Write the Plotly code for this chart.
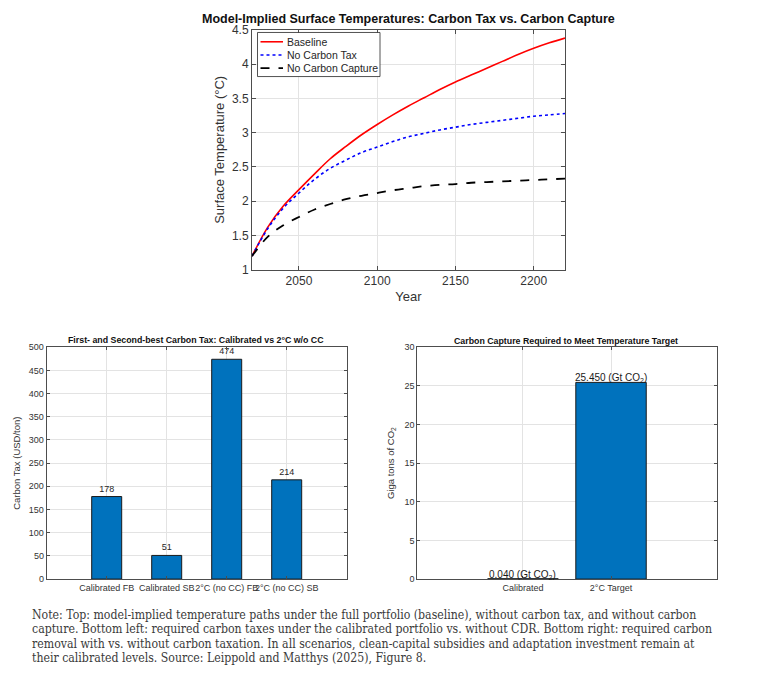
import plotly.graph_objects as go

# top panel: surface temperature paths
years = [2020, 2030, 2040, 2050, 2060, 2070, 2080, 2090, 2100, 2110, 2120,
         2130, 2140, 2150, 2160, 2170, 2180, 2190, 2200, 2210, 2220]
temp_baseline = [1.20, 1.62, 1.93, 2.17, 2.40, 2.62, 2.80, 2.97, 3.12, 3.26, 3.39,
                 3.51, 3.63, 3.74, 3.84, 3.94, 4.04, 4.14, 4.23, 4.31, 4.38]
temp_no_tax = [1.20, 1.60, 1.90, 2.12, 2.32, 2.48, 2.60, 2.71, 2.79, 2.87, 2.94,
               2.99, 3.04, 3.08, 3.12, 3.15, 3.18, 3.21, 3.24, 3.26, 3.28]
temp_no_cc = [1.20, 1.48, 1.65, 1.77, 1.88, 1.96, 2.03, 2.08, 2.12, 2.16, 2.19,
              2.22, 2.24, 2.25, 2.27, 2.28, 2.29, 2.30, 2.31, 2.32, 2.33]
series_names = ["Baseline", "No Carbon Tax", "No Carbon Capture"]

# bottom left: carbon tax
tax_labels = ["Calibrated FB", "Calibrated SB", "2°C (no CC) FB", "2°C (no CC) SB"]
tax_values = [178, 51, 474, 214]

# bottom right: carbon capture
cc_labels = ["Calibrated", "2°C Target"]
cc_values = [0.040, 25.450]

note_lines = [
    "Note: Top: model-implied temperature paths under the full portfolio (baseline), without carbon tax, and without carbon",
    "capture. Bottom left: required carbon taxes under the calibrated portfolio vs. without CDR. Bottom right: required carbon",
    "removal with vs. without carbon taxation. In all scenarios, clean-capital subsidies and adaptation investment remain at",
    "their calibrated levels. Source: Leippold and Matthys (2025), Figure 8.",
]

W, H = 757, 686
BAR = "#0072BD"
AX = "#4d4d4d"
GRID = "#e3e3e3"
FONT = "Liberation Sans, Arial, sans-serif"

def px(x):
    return x / W

def py(y):
    return 1 - y / H

line_styles = [dict(color="red", width=1.6),
               dict(color="blue", width=1.6, dash="dot"),
               dict(color="black", width=1.8, dash="dash")]

fig = go.Figure()
for name, temps, style in zip(series_names, [temp_baseline, temp_no_tax, temp_no_cc], line_styles):
    fig.add_scatter(x=years, y=temps, name=name, mode="lines", line_shape="spline",
                    line=style, showlegend=False, xaxis="x", yaxis="y")

fig.add_bar(x=[1, 2, 3, 4], y=tax_values, width=0.5, marker=dict(color=BAR, line=dict(color="#1a1a1a", width=1)),
            text=[str(v) for v in tax_values], textposition="outside", cliponaxis=False,
            textfont=dict(size=9, color="#262626"), showlegend=False, xaxis="x2", yaxis="y2")

fig.add_bar(x=[1, 2], y=cc_values, width=0.8, marker=dict(color=BAR, line=dict(color="#1a1a1a", width=1)),
            showlegend=False, xaxis="x3", yaxis="y3")

common = dict(showline=True, linecolor=AX, linewidth=1, mirror="allticks", ticks="inside",
              tickcolor=AX, showgrid=True, gridcolor=GRID, zeroline=False)

fig.update_layout(
    width=W, height=H,
    margin=dict(l=0, r=0, t=0, b=0),
    paper_bgcolor="white", plot_bgcolor="white",
    font=dict(family=FONT, color="#333333"),
    bargap=0,
    hovermode=False,
    xaxis=dict(domain=[px(252), px(565)], range=[2020, 2220], tickvals=[2050, 2100, 2150, 2200],
               anchor="y", ticklen=4, tickfont=dict(size=12),
               title=dict(text="Year", font=dict(size=13), standoff=4), **common),
    yaxis=dict(domain=[py(268.3), py(23.3)], range=[1, 4.5], dtick=0.5, anchor="x", ticklen=4,
               tickfont=dict(size=12),
               title=dict(text="Surface Temperature (°C)", font=dict(size=13), standoff=4), **common),
    xaxis2=dict(domain=[px(46.7), px(346.7)], range=[0, 5], tickvals=[1, 2, 3, 4], ticktext=tax_labels,
                tickangle=0, anchor="y2", ticklen=3, tickfont=dict(size=9), **common),
    yaxis2=dict(domain=[py(584), py(347.3)], range=[0, 500], dtick=50, anchor="x2", ticklen=3,
                tickfont=dict(size=9),
                title=dict(text="Carbon Tax (USD/ton)", font=dict(size=9.5), standoff=6), **common),
    xaxis3=dict(domain=[px(417.3), px(716.7)], range=[-0.2, 3.2], tickvals=[1, 2], ticktext=cc_labels,
                tickangle=0, anchor="y3", ticklen=3, tickfont=dict(size=9), **common),
    yaxis3=dict(domain=[py(584), py(347.3)], range=[0, 30], dtick=5, anchor="x3", ticklen=3,
                tickfont=dict(size=9),
                title=dict(text="Giga tons of CO<sub>2</sub>", font=dict(size=9.5), standoff=8), **common),
)

annotations = [
    dict(text="<b>Model-Implied Surface Temperatures: Carbon Tax vs. Carbon Capture</b>",
         x=px(408), y=py(12), font=dict(size=12.5, color="#111111")),
    dict(text="<b>First- and Second-best Carbon Tax: Calibrated vs 2°C w/o CC</b>",
         x=px(196), y=py(340), font=dict(size=8.8, color="#111111")),
    dict(text="<b>Carbon Capture Required to Meet Temperature Target</b>",
         x=px(566), y=py(341), font=dict(size=8.8, color="#111111")),
]
for a in annotations:
    a.update(xref="paper", yref="paper", xanchor="center", yanchor="middle", showarrow=False)

# compact MATLAB-style legend box in the top-left corner of the top panel
shapes = [dict(type="rect", xref="paper", yref="paper", x0=px(257.5), x1=px(380), y0=py(71), y1=py(26),
               fillcolor="white", line=dict(color="#262626", width=0.8), layer="above")]
for i, (name, style) in enumerate(zip(series_names, line_styles)):
    yy = py(35.5 + 13.5 * i)
    shapes.append(dict(type="line", xref="paper", yref="paper", x0=px(260.5), x1=px(283), y0=yy, y1=yy,
                       line=dict(color=style["color"], width=style["width"], dash=style.get("dash", "solid"))))
    annotations.append(dict(text=name, x=px(284.5), y=yy, xref="paper", yref="paper", xanchor="left",
                            yanchor="middle", showarrow=False, font=dict(size=10.5, color="#262626")))

for i, line in enumerate(note_lines):
    annotations.append(dict(text=line, x=px(30), y=py(620.5 + 14.7 * i), xref="paper", yref="paper",
                            xanchor="left", yanchor="middle", showarrow=False,
                            font=dict(family="DejaVu Serif Condensed, DejaVu Serif, serif", size=12.2,
                                      color="#3a3a3a")))

for i, v in enumerate(cc_values):
    annotations.append(dict(text=f"{v:.3f} (Gt CO<sub>2</sub>)", x=i + 1, y=v, xref="x3", yref="y3",
                            showarrow=False, xanchor="center", yanchor="bottom", yshift=-4,
                            font=dict(size=10, color="#1a1a1a")))
fig.update_layout(annotations=annotations, shapes=shapes)

# pin the graph to the page corner so the page is exactly the window size
pin = """
var gd = document.getElementById('{plot_id}');
document.documentElement.style.margin = '0';
document.documentElement.style.overflow = 'hidden';
document.body.style.margin = '0';
document.body.style.overflow = 'hidden';
gd.style.position = 'absolute';
gd.style.left = '0px';
gd.style.top = '0px';
"""
fig.write_html("out.html", post_script=pin, config={"displayModeBar": False, "staticPlot": True})
